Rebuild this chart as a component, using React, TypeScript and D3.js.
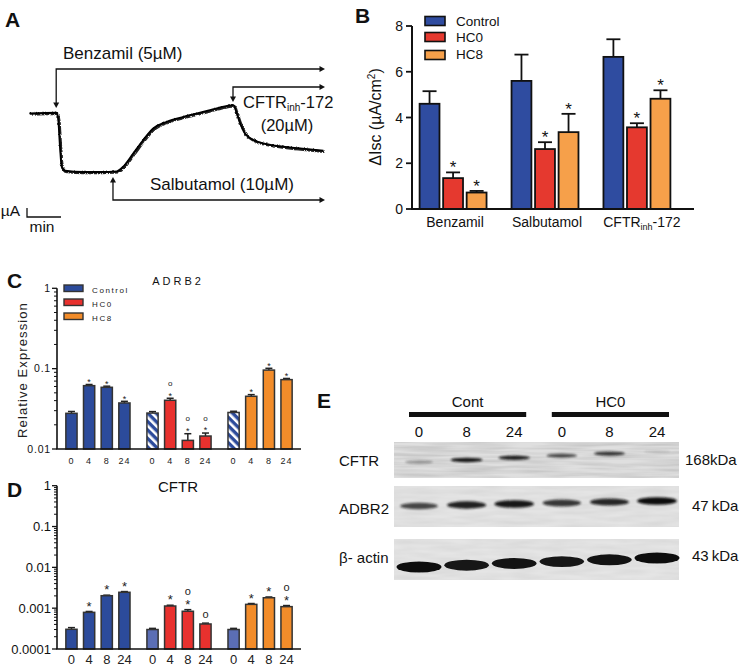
import React from 'react';
import * as d3 from 'd3';

const FONT = "'Liberation Sans', Arial, Helvetica, sans-serif";

// ---------- Panel A: Ussing chamber trace ----------
const traceTime = [0.01, 0.81, 0.86, 0.91, 0.96, 1.06, 1.6, 2.09, 2.58, 2.77, 3.07, 3.36, 3.66, 4.05, 4.54, 5.03, 5.52, 6.01, 6.11, 6.21, 6.35, 6.6, 6.99, 7.48, 7.97, 8.66];
const traceCurrent = [6.52, 6.59, 5.78, 2.81, 0.59, 0.14, 0, 0, 0.08, 0.59, 2.08, 3.56, 4.86, 5.59, 6.14, 6.59, 7.08, 7.44, 6.52, 5.41, 4.3, 3.56, 3.11, 2.81, 2.63, 2.37];
const additionTimes = [0.8, 2.47, 6.0]; // Benzamil, Salbutamol, CFTRinh-172

// ---------- Panel B: ΔIsc ----------
const bCategories = ['Benzamil', 'Salbutamol', 'CFTRinh-172'];
const bSeries = ['Control', 'HC0', 'HC8'];
const bControl = [4.6, 5.6, 6.65];
const bHC0 = [1.35, 2.62, 3.57];
const bHC8 = [0.72, 3.36, 4.82];
const bControlSEM = [0.55, 1.15, 0.77];
const bHC0SEM = [0.25, 0.3, 0.18];
const bHC8SEM = [0.07, 0.8, 0.37];
const bStars = [[false, false, false], [true, true, true], [true, true, true]];
const bTicks = [0, 2, 4, 6, 8];

// ---------- Panels C & D: relative expression ----------
const exprGroups = ['Control', 'HC0', 'HC8'];
const exprTimes = ['0', '4', '8', '24'];
const cControl = [0.0278, 0.0614, 0.0586, 0.0374];
const cHC0 = [0.028, 0.0404, 0.0128, 0.0145];
const cHC8 = [0.0285, 0.0453, 0.096, 0.073];
const cControlSEM = [0.0015, 0.0021, 0.0019, 0.0018];
const cHC0SEM = [0.0012, 0.0024, 0.0027, 0.0013];
const cHC8SEM = [0.001, 0.0022, 0.005, 0.0025];
const cStars = [[0, 1, 1, 1], [0, 1, 1, 1], [0, 1, 1, 1]];
const cCircles = [[0, 0, 0, 0], [0, 1, 1, 1], [0, 0, 0, 0]];
const cTickValues = [1, 0.1, 0.01];
const cTickLabels = ['1', '0.1', '0.01'];

const dControl = [0.000304, 0.00079, 0.00202, 0.00245];
const dHC0 = [0.0003, 0.00113, 0.00084, 0.00041];
const dHC8 = [0.0003, 0.00124, 0.0018, 0.00109];
const dControlSEM = [0.00003, 0.00004, 0.00006, 0.0001];
const dHC0SEM = [0.00002, 0.00005, 0.00008, 0.00002];
const dHC8SEM = [0.00002, 0.00006, 0.00008, 0.00007];
const dStars = [[0, 1, 1, 1], [0, 1, 1, 0], [0, 1, 1, 1]];
const dCircles = [[0, 0, 0, 0], [0, 0, 1, 1], [0, 0, 0, 1]];
const dTickValues = [1, 0.1, 0.01, 0.001, 0.0001];
const dTickLabels = ['1', '0.1', '0.01', '0.001', '0.0001'];

// ---------- Panel E: western blot ----------
const blotGroups = ['Cont', 'HC0'];
const blotLanes = ['0', '8', '24', '0', '8', '24'];
const blotProteins = ['CFTR', 'ADBR2', 'β- actin'];
const blotSizes = ['168kDa', '47\u2009kDa', '43\u2009kDa'];
const cftrBand = [0.35, 0.95, 0.9, 0.72, 0.8, 0.12];
const adbr2Band = [0.72, 0.9, 0.95, 0.8, 0.88, 1.0];
const actinBand = [1.0, 0.95, 0.97, 0.95, 0.97, 1.0];

const BLUE_B = '#2f4ca0';
const RED_B = '#e5392f';
const ORANGE_B = '#f6a04a';
const BLUE = '#2c4b9b';
const RED = '#e8312e';
const ORANGE = '#f28c2a';
const LIGHT_BLUE = '#5b6eb5';

function Arrow({ x, y, dir }: { x: number; y: number; dir: 'right' | 'down' | 'up' }) {
  const s = 5.5, w = 3;
  let pts = '';
  if (dir === 'right') pts = `${x},${y} ${x - s},${y - w} ${x - s},${y + w}`;
  if (dir === 'down') pts = `${x},${y} ${x - w},${y - s} ${x + w},${y - s}`;
  if (dir === 'up') pts = `${x},${y} ${x - w},${y + s} ${x + w},${y + s}`;
  return <polygon points={pts} fill="#111" />;
}

function PanelA() {
  const x = d3.scaleLinear().domain([0, 8.65]).range([29, 323.1]);
  const y = d3.scaleLinear().domain([0, 6.56]).range([172, 113]);
  const pts = traceTime.map((t, i) => [x(t), y(traceCurrent[i])] as [number, number]);
  const line = d3.line().curve(d3.curveMonotoneX)(pts) || '';
  const xEnd = 325;
  const [tB, tS, tC] = additionTimes.map((t) => x(t));
  const sw = 1.3;
  return (
    <g>
      <text x={5} y={27} fontSize={21} fontWeight="bold">A</text>
      <text x={63} y={59} fontSize={17}>Benzamil (5µM)</text>
      <path d={`M${tB},104 V69 H${xEnd - 4}`} fill="none" stroke="#111" strokeWidth={sw} />
      <Arrow x={tB} y={108} dir="down" />
      <Arrow x={xEnd} y={69} dir="right" />
      <path d={`M${tC},99 V87 H${xEnd - 4}`} fill="none" stroke="#111" strokeWidth={sw} />
      <Arrow x={tC} y={102} dir="down" />
      <Arrow x={xEnd} y={87} dir="right" />
      <text x={243} y={108} fontSize={16.5}>CFTR<tspan fontSize={10} dy={3}>inh</tspan><tspan dy={-3}>-172</tspan></text>
      <text x={287} y={131} fontSize={16.5} textAnchor="middle">(20µM)</text>
      <path d={`M${tS},181 V200 H${xEnd - 4}`} fill="none" stroke="#111" strokeWidth={sw} />
      <Arrow x={tS} y={177} dir="up" />
      <Arrow x={xEnd} y={200} dir="right" />
      <text x={150} y={190} fontSize={17}>Salbutamol (10µM)</text>
      <path d={line} fill="none" stroke="#222" strokeWidth={2.6} filter="url(#jitter)" />
      <path d={line} fill="none" stroke="#000" strokeWidth={1.8} />
      <path d={`M27,208 V217 H${27 + (x(1) - x(0))}`} fill="none" stroke="#111" strokeWidth={1.3} />
      <text x={20} y={216} fontSize={15.5} textAnchor="end">µA</text>
      <text x={42} y={232} fontSize={15.5} textAnchor="middle">min</text>
    </g>
  );
}

function PanelB() {
  const y = d3.scaleLinear().domain([0, 8]).range([209, 26]);
  const xOuter = d3.scaleBand().domain(bCategories).range([414, 676]).paddingInner(0.25).paddingOuter(0.05);
  const xInner = d3.scaleBand().domain(bSeries).range([0, xOuter.bandwidth()]).paddingInner(0.07);
  const values = [bControl, bHC0, bHC8];
  const sems = [bControlSEM, bHC0SEM, bHC8SEM];
  const colors = [BLUE_B, RED_B, ORANGE_B];
  const axisX = 412;
  return (
    <g>
      <text x={355} y={23} fontSize={21} fontWeight="bold">B</text>
      {bTicks.map((t) => (
        <g key={t}>
          <line x1={axisX - 6} x2={axisX} y1={y(t)} y2={y(t)} stroke="#111" strokeWidth={1.8} />
          <text x={axisX - 9} y={y(t) + 5} fontSize={14} textAnchor="end">{t}</text>
        </g>
      ))}
      {bCategories.map((c, ci) =>
        bSeries.map((s, si) => {
          const v = values[si][ci];
          const e = v + sems[si][ci];
          const bx = (xOuter(c) || 0) + (xInner(s) || 0);
          const bw = xInner.bandwidth();
          const cx = bx + bw / 2;
          return (
            <g key={c + s}>
              <line x1={cx} x2={cx} y1={y(v)} y2={y(e)} stroke="#111" strokeWidth={1.8} />
              <line x1={cx - 7} x2={cx + 7} y1={y(e)} y2={y(e)} stroke="#111" strokeWidth={1.8} />
              <rect x={bx + 1} y={y(v)} width={bw - 2} height={y(0) - y(v)} fill={colors[si]} stroke="#111" strokeWidth={1.8} />
              {bStars[si][ci] && <text x={cx} y={y(e) + 1} fontSize={17} textAnchor="middle">*</text>}
            </g>
          );
        })
      )}
      <line x1={axisX} x2={axisX} y1={y(8)} y2={y(0)} stroke="#111" strokeWidth={2} />
      <line x1={axisX - 1} x2={694} y1={y(0)} y2={y(0)} stroke="#111" strokeWidth={2} />
      {bCategories.map((c) => {
        const cx = (xOuter(c) || 0) + xOuter.bandwidth() / 2 + 2;
        if (c === 'CFTRinh-172')
          return (
            <text key={c} x={cx + 3} y={227} fontSize={14} textAnchor="middle">CFTR<tspan fontSize={9} dy={3}>inh</tspan><tspan dy={-3}>-172</tspan></text>
          );
        return <text key={c} x={cx} y={227} fontSize={14} textAnchor="middle">{c}</text>;
      })}
      <text transform="translate(381,117) rotate(-90)" fontSize={16} textAnchor="middle">ΔIsc (µA/cm<tspan fontSize={10} dy={-6}>2</tspan><tspan dy={6}>)</tspan></text>
      {bSeries.map((s, i) => (
        <g key={s}>
          <rect x={425} y={[16.5, 32.5, 50.5][i]} width={20} height={9} fill={colors[i]} stroke="#111" strokeWidth={1.6} />
          <text x={456} y={[25.5, 41.5, 59][i]} fontSize={13.5}>{s}</text>
        </g>
      ))}
    </g>
  );
}

type ExprCfg = {
  letter: string;
  letterY: number;
  title: string;
  titleY: number;
  titleSize: number;
  titleSpacing: number;
  domain: [number, number];
  range: [number, number];
  tickValues: number[];
  tickLabels: string[];
  tickSize: number;
  tickSpacing: number;
  values: number[][];
  sems: number[][];
  stars: number[][];
  circles: number[][];
  firstBar: 'hatch' | 'light';
  xLabelY: number;
  xLabelSize: number;
  xLabelSpacing: number;
  starSize: number;
  circleSize: number;
  starGap: number;
  legend: boolean;
  yLabel: boolean;
};

function ExprPanel({ cfg }: { cfg: ExprCfg }) {
  const y = d3.scaleLog().domain(cfg.domain).range(cfg.range);
  const axisX = 57;
  const xOuter = d3.scaleBand().domain(exprGroups).range([axisX, 301]).paddingInner(0.19).paddingOuter(0.1);
  const xInner = d3.scaleBand().domain(exprTimes).range([0, xOuter.bandwidth()]).paddingInner(0.28);
  const colors = [BLUE, RED, ORANGE];
  const base = cfg.range[0];
  const minors: number[] = [];
  const lo = Math.log10(cfg.domain[0]);
  const hi = Math.log10(cfg.domain[1]);
  for (let d = lo; d < hi; d++) for (let m = 2; m <= 9; m++) minors.push(m * Math.pow(10, d));
  return (
    <g>
      <text x={7} y={cfg.letterY} fontSize={21} fontWeight="bold">{cfg.letter}</text>
      <text x={178} y={cfg.titleY} fontSize={cfg.titleSize} textAnchor="middle" letterSpacing={cfg.titleSpacing}>{cfg.title}</text>
      {minors.map((m) => (
        <line key={m} x1={axisX - 3} x2={axisX} y1={y(m)} y2={y(m)} stroke="#111" strokeWidth={1} />
      ))}
      {cfg.tickValues.map((t, i) => (
        <g key={t}>
          <line x1={axisX - 5} x2={axisX} y1={y(t)} y2={y(t)} stroke="#111" strokeWidth={1.3} />
          <text x={axisX - 6} y={y(t) + cfg.tickSize * 0.36} fontSize={cfg.tickSize} textAnchor="end" letterSpacing={cfg.tickSpacing}>{cfg.tickLabels[i]}</text>
        </g>
      ))}
      {exprGroups.map((g, gi) =>
        exprTimes.map((t, ti) => {
          const v = cfg.values[gi][ti];
          const e = v + cfg.sems[gi][ti];
          const bx = (xOuter(g) || 0) + (xInner(t) || 0);
          const bw = xInner.bandwidth();
          const cx = bx + bw / 2;
          let fill = colors[gi];
          if (ti === 0 && gi > 0) fill = cfg.firstBar === 'hatch' ? 'url(#hatch)' : LIGHT_BLUE;
          const starY = y(e) - cfg.starGap;
          return (
            <g key={g + t}>
              <line x1={cx} x2={cx} y1={y(v)} y2={y(e)} stroke="#222" strokeWidth={1.5} />
              <line x1={cx - 3.5} x2={cx + 3.5} y1={y(e)} y2={y(e)} stroke="#222" strokeWidth={1.5} />
              <rect x={bx + 0.75} y={y(v)} width={bw - 1.5} height={base - y(v)} fill={fill} stroke="#333" strokeWidth={1.5} />
              {cfg.stars[gi][ti] ? (
                <text x={cx} y={starY + cfg.starSize * 0.55} fontSize={cfg.starSize} textAnchor="middle" fill="#222">*</text>
              ) : null}
              {cfg.circles[gi][ti] ? (
                <text x={cx} y={starY - (cfg.stars[gi][ti] ? 10 : 0) + cfg.circleSize * 0.28} fontSize={cfg.circleSize} textAnchor="middle" fill="#222">o</text>
              ) : null}
              <text x={cx} y={cfg.xLabelY} fontSize={cfg.xLabelSize} textAnchor="middle" letterSpacing={cfg.xLabelSpacing} fill="#222">{t}</text>
            </g>
          );
        })
      )}
      <line x1={axisX} x2={axisX} y1={cfg.range[1]} y2={base} stroke="#111" strokeWidth={1.6} />
      <line x1={axisX - 0.8} x2={301} y1={base} y2={base} stroke="#111" strokeWidth={1.6} />
      {cfg.yLabel && (
        <text transform="translate(27,370) rotate(-90)" fontSize={13} textAnchor="middle" letterSpacing={1.1} fill="#222">Relative Expression</text>
      )}
      {cfg.legend &&
        exprGroups.map((g, i) => (
          <g key={g}>
            <rect x={64} y={285 + i * 14} width={19} height={6.5} fill={colors[i]} stroke="#333" strokeWidth={1.4} />
            <text x={92} y={292.5 + i * 14} fontSize={8} letterSpacing={1.6} fill="#222">{g}</text>
          </g>
        ))}
    </g>
  );
}

function PanelE() {
  const lane = d3.scalePoint<number>().domain(blotLanes.map((_, i) => i)).range([419, 657]);
  const blotX0 = 394, blotX1 = 679;
  const blots = [
    { top: 442, bottom: 478, bandY: 462, tilt: 2.1, rx: 16, ry: 2.3, blur: 'url(#bandBlur)', data: cftrBand, fill: '#dfdfdf', noise: 'url(#blotNoise)' },
    { top: 486, bottom: 527, bandY: 506, tilt: 1.0, rx: 20, ry: 3.8, blur: 'url(#bandBlur)', data: adbr2Band, fill: '#e4e4e4', noise: 'url(#blotNoiseLight)' },
    { top: 539, bottom: 580, bandY: 567, tilt: 1.8, rx: 22.5, ry: 5.6, blur: 'url(#bandBlurSoft)', data: actinBand, fill: '#e5e5e5', noise: 'url(#blotNoiseLight)' },
  ];
  const labelY = [466, 514, 563];
  const sizeY = [465, 511, 561];
  return (
    <g>
      <text x={317} y={408} fontSize={21} fontWeight="bold">E</text>
      {blotGroups.map((g, gi) => {
        const x0 = (lane(gi * 3) || 0) - 10;
        const x1 = (lane(gi * 3 + 2) || 0) + 12;
        return (
          <g key={g}>
            <text x={(x0 + x1) / 2} y={407} fontSize={15} textAnchor="middle">{g}</text>
            <rect x={x0} y={412} width={x1 - x0} height={5} fill="#111" />
          </g>
        );
      })}
      {blotLanes.map((l, i) => (
        <text key={i} x={lane(i)} y={437} fontSize={15} textAnchor="middle">{l}</text>
      ))}
      {blots.map((b, bi) => (
        <g key={bi}>
          <rect x={blotX0} y={b.top} width={blotX1 - blotX0} height={b.bottom - b.top} fill={b.fill} />
          <rect x={blotX0} y={b.top} width={blotX1 - blotX0} height={b.bottom - b.top} fill="#fff" filter={b.noise} />
          {b.data.map((v, i) => (
            <ellipse
              key={i}
              cx={lane(i)}
              cy={b.bandY - b.tilt * i}
              rx={b.rx * (0.8 + 0.2 * v)}
              ry={b.ry * (0.55 + 0.45 * v)}
              fill="#111"
              opacity={v}
              filter={b.blur}
            />
          ))}
          <text x={339} y={labelY[bi]} fontSize={15}>{blotProteins[bi]}</text>
          <text x={bi === 0 ? 685 : 692} y={sizeY[bi]} fontSize={15}>{blotSizes[bi]}</text>
        </g>
      ))}
    </g>
  );
}

const cCfg: ExprCfg = {
  letter: 'C', letterY: 288, title: 'ADRB2', titleY: 285, titleSize: 11, titleSpacing: 3,
  domain: [0.01, 1], range: [449, 288.3], tickValues: cTickValues, tickLabels: cTickLabels,
  tickSize: 10.5, tickSpacing: 0.8,
  values: [cControl, cHC0, cHC8], sems: [cControlSEM, cHC0SEM, cHC8SEM],
  stars: cStars, circles: cCircles, firstBar: 'hatch',
  xLabelY: 464, xLabelSize: 9, xLabelSpacing: 1, starSize: 9, circleSize: 8, starGap: 4.5,
  legend: true, yLabel: true,
};

const dCfg: ExprCfg = {
  letter: 'D', letterY: 497, title: 'CFTR', titleY: 492, titleSize: 15, titleSpacing: 0,
  domain: [0.0001, 1], range: [649, 485.7], tickValues: dTickValues, tickLabels: dTickLabels,
  tickSize: 13, tickSpacing: 0,
  values: [dControl, dHC0, dHC8], sems: [dControlSEM, dHC0SEM, dHC8SEM],
  stars: dStars, circles: dCircles, firstBar: 'light',
  xLabelY: 664, xLabelSize: 13, xLabelSpacing: 0, starSize: 13, circleSize: 11, starGap: 8,
  legend: false, yLabel: false,
};

export default function App() {
  return (
    <svg width={749} height={670} style={{ position: 'absolute', left: 0, top: 0, background: '#fff' }} fontFamily={FONT} fill="#111">
      <defs>
        <pattern id="hatch" width="6" height="6" patternUnits="userSpaceOnUse" patternTransform="rotate(-45)">
          <rect width="6" height="6" fill={BLUE} />
          <rect width="2.6" height="6" fill="#fff" />
        </pattern>
        <filter id="jitter" x="-5%" y="-20%" width="110%" height="140%">
          <feTurbulence type="turbulence" baseFrequency="0.9" numOctaves="1" seed="3" result="t" />
          <feDisplacementMap in="SourceGraphic" in2="t" scale="2.2" xChannelSelector="R" yChannelSelector="G" />
        </filter>
        <filter id="blotNoise" x="0" y="0" width="100%" height="100%">
          <feTurbulence type="fractalNoise" baseFrequency="0.02 0.3" numOctaves="2" seed="7" result="n" />
          <feColorMatrix in="n" type="matrix" values="0 0 0 0 0  0 0 0 0 0  0 0 0 0 0  0.22 0 0 0 -0.07" />
        </filter>
        <filter id="blotNoiseLight" x="0" y="0" width="100%" height="100%">
          <feTurbulence type="fractalNoise" baseFrequency="0.03 0.2" numOctaves="2" seed="11" result="n" />
          <feColorMatrix in="n" type="matrix" values="0 0 0 0 0  0 0 0 0 0  0 0 0 0 0  0.08 0 0 0 -0.02" />
        </filter>
        <filter id="bandBlur" x="-20%" y="-80%" width="140%" height="260%">
          <feGaussianBlur stdDeviation="1.0" />
        </filter>
        <filter id="bandBlurSoft" x="-20%" y="-80%" width="140%" height="260%">
          <feGaussianBlur stdDeviation="0.7" />
        </filter>
      </defs>
      <PanelA />
      <PanelB />
      <ExprPanel cfg={cCfg} />
      <ExprPanel cfg={dCfg} />
      <PanelE />
    </svg>
  );
}
